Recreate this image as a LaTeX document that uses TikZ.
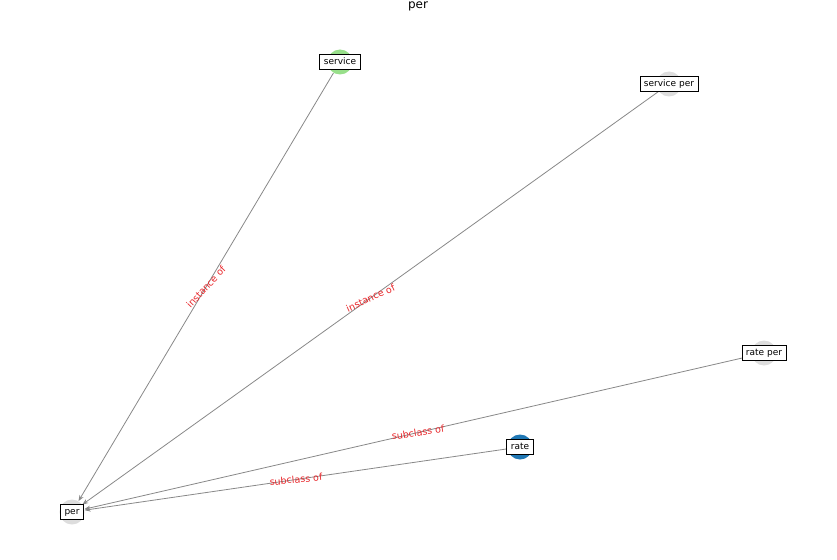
\documentclass[tikz,border=0pt]{standalone}
\usepackage{fontspec}
\setmainfont{DejaVu Sans}
\usetikzlibrary{arrows.meta}

\definecolor{nodegray}{HTML}{DDDDDD}
\definecolor{nodegreen}{HTML}{98DF8A}
\definecolor{nodeblue}{HTML}{1F77B4}
\definecolor{edgegray}{HTML}{888888}
\definecolor{labelred}{HTML}{E8262A}

\begin{document}
\begin{tikzpicture}[x=1pt,y=-1pt]
            \tikzset{
                dot/.style={circle, minimum size=25pt, inner sep=0pt, fill=nodegray},
                lbl/.style={draw, fill=white, line width=0.8pt, inner xsep=4pt, inner ysep=3pt, text height=6.8pt, text depth=1.8pt, font=\fontsize{9}{10}\selectfont},
                edge/.style={->, >={Stealth[length=6pt,width=4.5pt]}, draw=edgegray, line width=0.8pt},
                elabel/.style={midway, inner sep=0pt, text=labelred, font=\fontsize{9.5}{11}\selectfont}
            }
            \useasboundingbox (0,0) rectangle (837,559);
            \node[font=\fontsize{12}{14}\selectfont] (title) at (418,6) {per};

            % vertices
            \node[dot] (per) at (72,512) {};
            \node[dot, fill=nodegreen] (service) at (340,62) {};
            \node[dot] (serviceper) at (669,84) {};
            \node[dot] (rateper) at (764,353) {};
            \node[dot, fill=nodeblue] (rate) at (520,447) {};

            %edges
            \draw[edge] (service) -- node[elabel, rotate=47] {instance of} (per);
            \draw[edge] (serviceper) -- node[elabel, rotate=24.6] {instance of} (per);
            \draw[edge] (rateper) -- node[elabel, rotate=8.3] {subclass of} (per);
            \draw[edge] (rate) -- node[elabel, rotate=5.3] {subclass of} (per);

            % labels
            \node[lbl] at (per) {per};
            \node[lbl] at (service) {service};
            \node[lbl] at (serviceper) {service per};
            \node[lbl] at (rateper) {rate per};
            \node[lbl] at (rate) {rate};
\end{tikzpicture}
\end{document}
